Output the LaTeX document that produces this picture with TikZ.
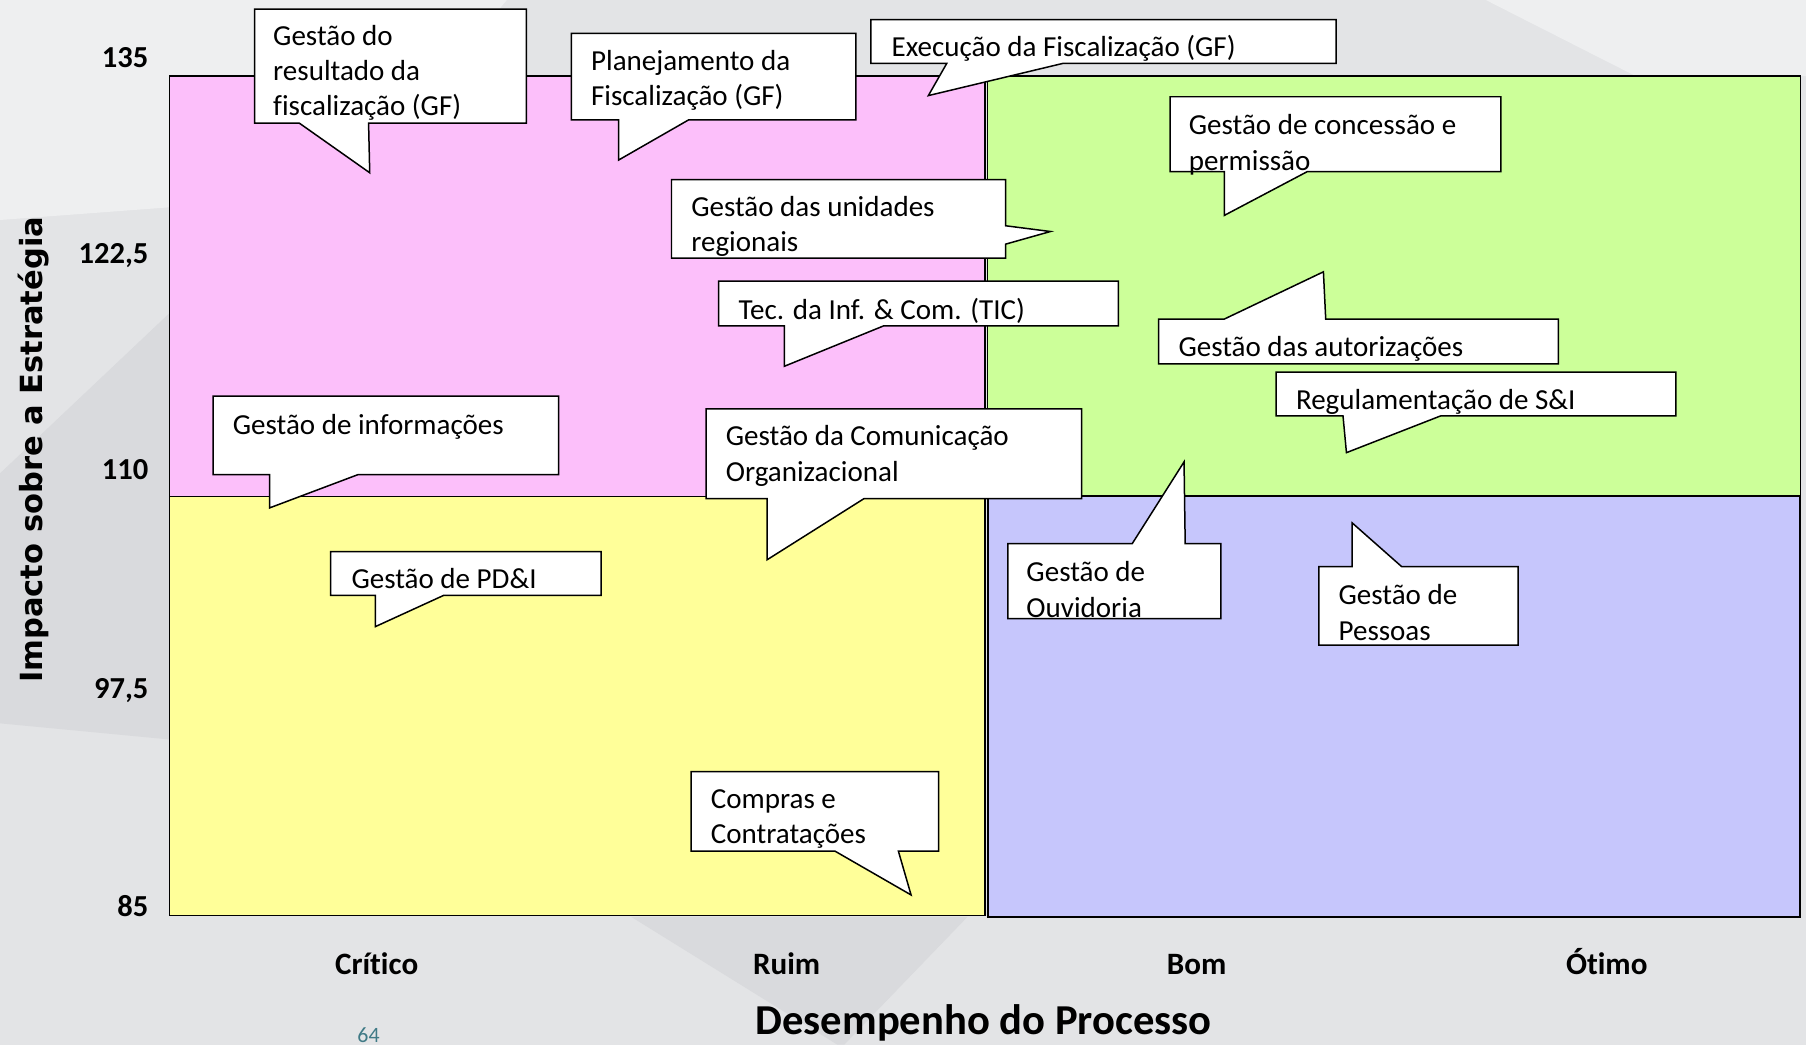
\documentclass[tikz,border=0pt]{standalone}
\usepackage{fontspec}
\setmainfont{Carlito}[Ligatures=NoCommon]
\newfontfamily\axisfont{DejaVu Sans}
\definecolor{bgbase}{RGB}{227,228,230}
\definecolor{bglight}{RGB}{238,239,240}
\definecolor{bgdark}{RGB}{217,218,221}
\definecolor{qpink}{RGB}{252,191,250}
\definecolor{qgreen}{RGB}{204,255,153}
\definecolor{qyellow}{RGB}{255,255,153}
\definecolor{qblue}{RGB}{198,198,252}
\definecolor{pagenum}{RGB}{64,122,134}
\begin{document}
\begin{tikzpicture}[x=1pt,y=-1pt,
  callout/.style={draw=black, fill=white, line width=1.3pt},
  ctext/.style={anchor=north west, inner sep=0pt, align=left,
    font=\fontsize{25.2}{30.5}\selectfont},
  quad/.style={draw=black, line width=1.3pt},
  ticklbl/.style={anchor=base east, inner sep=0pt,
    font=\bfseries\fontsize{26.5}{30}\selectfont},
  catlbl/.style={anchor=base, inner sep=0pt,
    font=\bfseries\fontsize{27}{30}\selectfont},
]
\useasboundingbox (0,0) rectangle (1568,907);
\clip (0,0) rectangle (1568,907);

% slide background
\fill[bgbase] (0,0) rectangle (1568,907);
\fill[bglight] (0,0) -- (440,0) -- (375,78) -- (147,180) -- (0,191) -- cycle;
\fill[bglight] (1290,0) -- (1568,0) -- (1568,66) -- (1420,66) -- cycle;
\fill[bgdark] (0,411) -- (147,272) -- (147,642) -- (0,628) -- cycle;
\fill[bgdark] (548,796) -- (840,796) -- (733,907) -- (727,907) -- cycle;

% quadrants
\path[quad, fill=qpink]   (147,66)    rectangle (855,431);
\path[quad, fill=qyellow] (147,431)   rectangle (855,795);
\path[quad, fill=qgreen]  (857.5,66)  rectangle (1563,430);
\path[quad, fill=qblue, line width=1.7pt] (857.5,431) rectangle (1563,796);

% callouts
\path[callout] (221,8) -- (457,8) -- (457,107) -- (320,107) -- (321,150) -- (260,107) -- (221,107) -- cycle;
\node[ctext] (t1) at (237,19) {\rule{0pt}{20pt}Gestão do\\resultado da\\fiscalização (GF)};

\path[callout] (496,29) -- (743,29) -- (743,104) -- (598,104) -- (537,139) -- (537,104) -- (496,104) -- cycle;
\node[ctext] (t2) at (513,41) {\rule{0pt}{20pt}Planejamento da\\Fiscalização (GF)};

\path[callout] (756,17) -- (1160,17) -- (1160,55) -- (923,55) -- (806,83) -- (822,55) -- (756,55) -- cycle;
\node[ctext] (t3) at (774,29) {\rule{0pt}{20pt}Execução da Fiscalização (GF)};

\path[callout] (583,156) -- (873,156) -- (873,196) -- (912,201) -- (873,212) -- (873,224) -- (583,224) -- cycle;
\node[ctext] (t4) at (600,168) {\rule{0pt}{20pt}Gestão das unidades\\regionais};

\path[callout] (624,244) -- (971,244) -- (971,283) -- (767,283) -- (681,318) -- (681,283) -- (624,283) -- cycle;
\node[ctext] (t5) at (641,257) {\rule{0pt}{20pt}Tec. da Inf. \& Com. (TIC)};

\path[callout] (1016,84) -- (1303,84) -- (1303,149) -- (1135,149) -- (1063,187) -- (1063,149) -- (1016,149) -- cycle;
\node[ctext] (t6) at (1032,97) {\rule{0pt}{20pt}Gestão de concessão e\\permissão};

\path[callout] (1006,277) -- (1063,277) -- (1149,236) -- (1151,277) -- (1353,277) -- (1353,316) -- (1006,316) -- cycle;
\node[ctext] (t7) at (1023,289) {\rule{0pt}{20pt}Gestão das autorizações};

\path[callout] (1108,323) -- (1455,323) -- (1455,361) -- (1251,361) -- (1169,393) -- (1166,361) -- (1108,361) -- cycle;
\node[ctext] (t8) at (1125,335) {\rule{0pt}{20pt}Regulamentação de S\&I};

\path[callout] (185,344) -- (485,344) -- (485,412) -- (311,412) -- (234,441) -- (234,412) -- (185,412) -- cycle;
\node[ctext] (t9) at (202,357) {\rule{0pt}{20pt}Gestão de informações};

\path[callout] (613,355) -- (939,355) -- (939,433) -- (750,433) -- (666,486) -- (666,433) -- (613,433) -- cycle;
\node[ctext] (t10) at (630,367) {\rule{0pt}{20pt}Gestão da Comunicação\\Organizacional};

\path[callout] (287,479) -- (522,479) -- (522,517) -- (385,517) -- (326,544) -- (326,517) -- (287,517) -- cycle;
\node[ctext] (t11) at (305,491) {\rule{0pt}{20pt}Gestão de PD\&I};

\path[callout] (600,670) -- (815,670) -- (815,739) -- (780,739) -- (791,777) -- (725,739) -- (600,739) -- cycle;
\node[ctext] (t12) at (617,682) {\rule{0pt}{20pt}Compras e\\Contratações};

\path[callout] (875,472) -- (983,472) -- (1028,401) -- (1029,472) -- (1060,472) -- (1060,537) -- (875,537) -- cycle;
\node[ctext] (t13) at (891,485) {\rule{0pt}{20pt}Gestão de\\Ouvidoria};

\path[callout] (1145,492) -- (1174,492) -- (1174,454) -- (1217,492) -- (1318,492) -- (1318,560) -- (1145,560) -- cycle;
\node[ctext] (t14) at (1162,505) {\rule{0pt}{20pt}Gestão de\\Pessoas};

% vertical axis
\node[ticklbl] (y135) at (129,58.5)  {135};
\node[ticklbl] (y1225) at (129,228.5) {122,5};
\node[ticklbl] (y110) at (129,416.5) {110};
\node[ticklbl] (y975) at (129,606.5) {97,5};
\node[ticklbl] (y85) at (129,795.5)  {85};
\node[rotate=90, anchor=base, inner sep=0pt,
      font=\axisfont\bfseries\fontsize{26.5}{30}\selectfont] (ylab) at (37,390.5)
      {Impacto sobre a Estratégia};

% horizontal axis
\node[catlbl] (xc) at (327,846) {Crítico};
\node[catlbl] (xr) at (683,846) {Ruim};
\node[catlbl] (xb) at (1039,846) {Bom};
\node[catlbl] (xo) at (1395,846) {Ótimo};
\node[anchor=base, inner sep=0pt, font=\bfseries\fontsize{37}{40}\selectfont] (xlab) at (854,898)
      {Desempenho do Processo};

% page number
\node[anchor=base, inner sep=0pt, text=pagenum, font=\fontsize{19}{22}\selectfont] (pg) at (320,905) {64};
\end{tikzpicture}
\end{document}
